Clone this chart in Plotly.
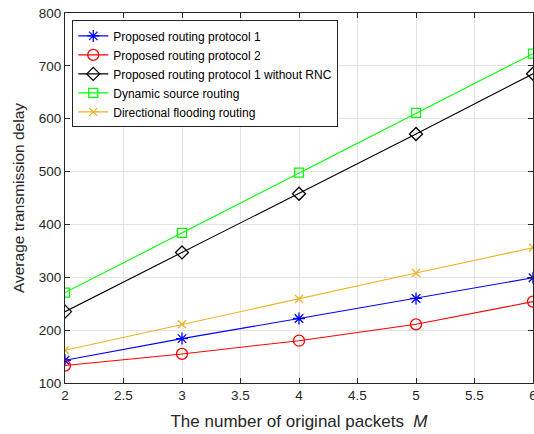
import plotly.graph_objects as go

M = [2, 3, 4, 5, 6]
proto1 = [143, 184, 222, 260, 299]
proto2 = [133, 155, 180, 211, 254]
proto1_no_rnc = [235, 347, 458, 571, 685]
dsr = [271, 384, 498, 611, 723]
dfr = [162, 211, 259, 308, 356]

series = [
    ("Proposed routing protocol 1", proto1, "#0000FF", "asterisk-open", 10),
    ("Proposed routing protocol 2", proto2, "#FF0000", "circle-open", 11),
    ("Proposed routing protocol 1 without RNC", proto1_no_rnc, "#000000", "diamond-open", 10),
    ("Dynamic source routing", dsr, "#00FF00", "square-open", 9),
    ("Directional flooding routing", dfr, "#EDB120", "x-thin-open", 8),
]

fig = go.Figure()
for name, ys, col, sym, sz in series:
    fig.add_trace(go.Scatter(
        x=M, y=ys, name=name, mode="lines+markers",
        line=dict(color=col, width=1.1),
        marker=dict(symbol=sym, size=sz, color=col, line=dict(color=col, width=1.3)),
    ))

axis_common = dict(
    showline=True, linecolor="#262626", linewidth=1, mirror="ticks",
    ticks="inside", ticklen=5, tickcolor="#262626",
    showgrid=True, gridcolor="#E3E3E3", gridwidth=1, zeroline=False,
    ticklabeloverflow="allow",
    tickfont=dict(family="Liberation Sans, Arial, sans-serif", size=13.5, color="#262626"),
)

fig.update_layout(
    width=540, height=434,
    margin=dict(l=65, r=3, t=13, b=51),
    paper_bgcolor="white", plot_bgcolor="white",
    font=dict(family="Liberation Sans, Arial, sans-serif", color="#262626"),
    xaxis=dict(range=[2, 6], tickvals=[2, 2.5, 3, 3.5, 4, 4.5, 5, 5.5, 6],
               ticktext=["2", "2.5", "3", "3.5", "4", "4.5", "5", "5.5", "6"],
               title=dict(text="The number of original packets  <i>M</i>", font=dict(size=17), standoff=12),
               **axis_common),
    yaxis=dict(range=[100, 800], tickvals=[100, 200, 300, 400, 500, 600, 700, 800],
               title=dict(text="Average transmission delay", font=dict(size=15.5), standoff=10),
               **axis_common),
    legend=dict(x=0.0155, y=0.98, xanchor="left", yanchor="top",
                bordercolor="#262626", borderwidth=1, bgcolor="white",
                font=dict(size=12, color="#000000"), itemwidth=30,
                tracegroupgap=0),
    showlegend=True,
)

fig.write_html("out.html", post_script="document.body.style.overflow='hidden';document.documentElement.style.overflow='hidden';")
